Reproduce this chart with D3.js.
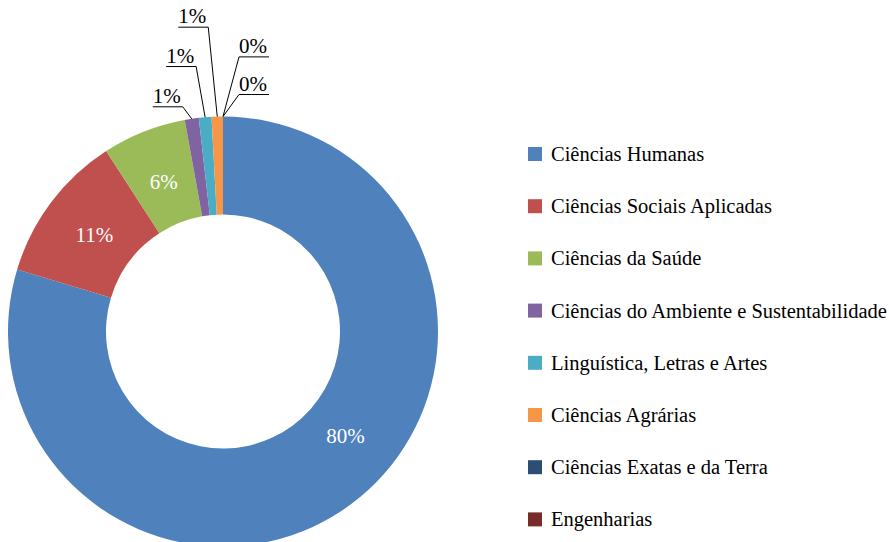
<!DOCTYPE html>
<html>
<meta charset="utf-8">
<head>
    <title>Donut - áreas</title>
    <style>
    body {
        margin: 0;
        background: #fff;
    }
    </style>
<script src="https://d3js.org/d3.v7.min.js"></script>
</head>
<body>
<svg></svg>
<script>

// data (percent of total)
var categories = ["Ciências Humanas", "Ciências Sociais Aplicadas", "Ciências da Saúde",
    "Ciências do Ambiente e Sustentabilidade", "Linguística, Letras e Artes",
    "Ciências Agrárias", "Ciências Exatas e da Terra", "Engenharias"];
var values = [79.7, 11.2, 6.3, 1.05, 0.95, 0.85, 0, 0];
var colors = ["#4F81BD", "#C0504D", "#9BBB59", "#8064A2", "#4BACC6", "#F79646", "#2C4D75", "#772C2A"];

var width = 889, height = 542;
var cx = 223, cy = 331.5, outerR = 215, innerR = 117;
var serif = "'Liberation Serif'";

var svg = d3.select("svg")
    .attr("width", width)
    .attr("height", height);

var total = d3.sum(values);
var pct = v => Math.round(v / total * 100) + "%";

var pie = d3.pie().sort(null).value(d => d);
var arcs = pie(values);

var arc = d3.arc().innerRadius(innerR).outerRadius(outerR);

var g = svg.append("g").attr("transform", "translate(" + cx + "," + cy + ")");

g.selectAll("path")
    .data(arcs)
    .enter().append("path")
    .attr("d", arc)
    .attr("fill", (d, i) => colors[i]);

// labels inside the big slices
var inside = arcs.filter(d => d.value / total >= 0.05);
g.selectAll("text.inner")
    .data(inside)
    .enter().append("text")
    .attr("class", "inner")
    .attr("transform", d => {
        // excel shifts the label of the big slice a bit
        var a = d.index === 0 ? d.startAngle + (d.endAngle - d.startAngle) * 0.455
                              : (d.startAngle + d.endAngle) / 2;
        var r = 161;
        return "translate(" + (r * Math.sin(a)) + "," + (-r * Math.cos(a) + 7) + ")";
    })
    .attr("text-anchor", "middle")
    .attr("fill", "#fff")
    .style("font-family", serif)
    .style("font-size", "21px")
    .text(d => pct(d.value));

// small slices get callouts with leader lines
var small = arcs.filter(d => d.value / total < 0.05).map(d => {
    var a = (d.startAngle + d.endAngle) / 2;
    return {d: d, ax: outerR * Math.sin(a), ay: -outerR * Math.cos(a)};
});
var left = small.filter(s => s.ax < -0.5).sort((p, q) => q.ay - p.ay);
var right = small.filter(s => s.ax >= -0.5);
left.forEach((s, k) => { s.side = "left"; s.ex = s.ax - 9; s.ey = s.ay - 12 - k * 38.7; });
right.forEach((s, k) => { s.side = "right"; s.ex = s.ax + 16; s.ey = s.ay - 22 - k * 37.6; });

var call = g.selectAll("g.callout")
    .data(small)
    .enter().append("g")
    .attr("class", "callout");

call.append("text")
    .attr("x", s => s.side === "left" ? s.ex - 2 : s.ex)
    .attr("y", s => s.ey - 4)
    .attr("text-anchor", s => s.side === "left" ? "end" : "start")
    .style("font-family", serif)
    .style("font-size", "21px")
    .attr("fill", "#000")
    .text(s => pct(s.d.value));

call.each(function(s) {
    var w = d3.select(this).select("text").node().getComputedTextLength() + 2;
    var x0 = s.side === "left" ? s.ex - w : s.ex + w;
    d3.select(this).append("polyline")
        .attr("points", [[x0, s.ey], [s.ex, s.ey], [s.ax, s.ay]].map(p => p.join(",")).join(" "))
        .attr("fill", "none")
        .attr("stroke", "#000")
        .attr("stroke-width", 1);
});

// legend
var legend = svg.append("g")
    .attr("transform", "translate(528,154)");

var item = legend.selectAll("g")
    .data(categories)
    .enter().append("g")
    .attr("transform", (d, i) => "translate(0," + (i * 52.2) + ")");

item.append("rect")
    .attr("x", 0)
    .attr("y", -7)
    .attr("width", 14)
    .attr("height", 14)
    .attr("fill", (d, i) => colors[i]);

item.append("text")
    .attr("x", 23)
    .attr("y", 7)
    .style("font-family", serif)
    .style("font-size", "20.5px")
    .attr("fill", "#000")
    .text(d => d);

</script>
</body>
</html>
